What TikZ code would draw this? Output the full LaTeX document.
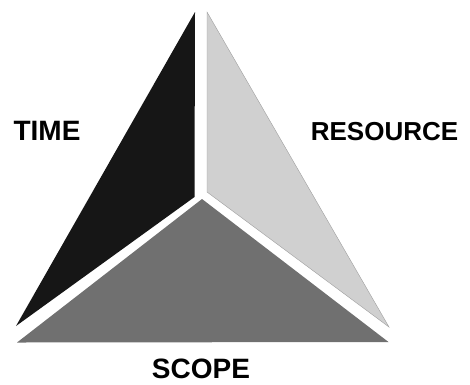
\documentclass[tikz,border=0pt]{standalone}
\usepackage{fontspec}
\setmainfont{Liberation Sans}
\usepackage{tikz}
\usetikzlibrary{calc, positioning}
\definecolor{tri_dark}{RGB}{22,22,22}
\definecolor{tri_light}{RGB}{208,208,208}
\definecolor{tri_mid}{RGB}{112,112,112}
\tikzset{
    wedge/.style={line width=0.4pt, line join=miter},
    trilabel/.style={anchor=base, inner sep=0pt, font=\fontsize{28}{31}\selectfont\bfseries},
}

\begin{document}
\begin{tikzpicture}[x=1pt, y=-1pt]
    \useasboundingbox (0,0) rectangle (470,384);
    % the three parts of the triangle
    \fill[tri_dark, wedge] (195,12) -- (194.5,197) -- (16,326) -- cycle;
    \filldraw[fill=tri_light, draw=gray!75, wedge] (207,12) -- (207,192) -- (389,327) -- cycle;
    \fill[tri_mid, wedge] (202,199) -- (388.5,342) -- (17,342.5) -- cycle;
    % labels
    \node[trilabel] (time) at (47,140) {TIME};
    \node[trilabel, font=\fontsize{26}{29}\selectfont\bfseries] (resource) at (384.5,140) {RESOURCE};
    \node[trilabel] (scope) at (201,378.5) {SCOPE};
\end{tikzpicture}
\end{document}
